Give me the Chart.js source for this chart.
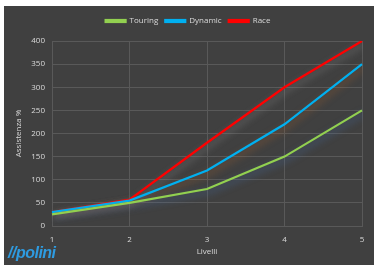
<!DOCTYPE html>
<html><head><meta charset="utf-8">
<script src="https://cdn.jsdelivr.net/npm/chart.js@4"></script>
<style>
html,body{margin:0;padding:0;background:#fff;}
#wrap{position:relative;width:374px;height:265px;}
#logo{position:absolute;left:8px;top:244px;font:italic bold 16px "Liberation Sans",Arial,sans-serif;color:#2e9be0;letter-spacing:-0.5px;line-height:17px;}
</style></head><body>
<div id="wrap"><canvas id="c" width="374" height="265"></canvas><div id="logo">//polini</div></div>
<script>
const categories = ["1","2","3","4","5"];
const touring = [25, 50, 80, 150, 250];
const dynamic = [30, 55, 120, 220, 350];
const race = [30, 57, 180, 300, 400];
const yTicks = [0,50,100,150,200,250,300,350,400];

const bg = {
  id:'bg',
  beforeDraw(chart){
    const ctx = chart.ctx;
    ctx.save();
    ctx.fillStyle = '#404040';
    ctx.fillRect(4,6,370,259);
    ctx.restore();
  }
};
const legendGap = {
  id:'legendGap',
  beforeLayout(chart){
    const lg = chart.legend;
    if (lg && !lg._patched){
      const fit = lg.fit;
      lg.fit = function(){ fit.call(this); this.height += 6; };
      lg._patched = true;
    }
  }
};
const glow = {
  id:'glow',
  beforeDatasetDraw(chart, args){
    const ctx = chart.ctx;
    ctx.save();
    const cols = ['rgba(70,120,190,0.6)','rgba(200,110,40,0.5)','rgba(170,170,170,0.45)'];
    ctx.shadowColor = cols[args.index];
    ctx.shadowBlur = 7;
    ctx.shadowOffsetX = 2;
    ctx.shadowOffsetY = 3;
  },
  afterDatasetDraw(chart){ chart.ctx.restore(); }
};

const font = {family:"'Open Sans','Liberation Sans',sans-serif", size:8};
new Chart(document.getElementById('c'), {
  type:'line',
  data:{
    labels:categories,
    datasets:[
      {label:'Touring', data:touring, borderColor:'#92d050', backgroundColor:'#92d050', borderWidth:2.2, pointRadius:0, tension:0},
      {label:'Dynamic', data:dynamic, borderColor:'#00b0f0', backgroundColor:'#00b0f0', borderWidth:2.2, pointRadius:0, tension:0},
      {label:'Race', data:race, borderColor:'#ff0000', backgroundColor:'#ff0000', borderWidth:2.2, pointRadius:0, tension:0}
    ]
  },
  options:{
    responsive:false, animation:false,
    layout:{padding:{left:14, right:12, top:10, bottom:0}},
    plugins:{
      legend:{position:'top', labels:{color:'#d9d9d9', font:font, boxWidth:20, boxHeight:2, padding:7}},
      tooltip:{enabled:false}
    },
    scales:{
      x:{
        offset:false,
        afterFit(s){ s.height = 39; },
        grid:{color:'#595959', drawTicks:false},
        border:{color:'#595959'},
        ticks:{color:'#d9d9d9', font:font, padding:9},
        title:{display:true, text:'Livelli', color:'#d9d9d9', font:font, padding:{top:2,bottom:8}}
      },
      y:{
        min:0, max:400,
        afterBuildTicks(s){ s.ticks = yTicks.map(v=>({value:v})); },
        afterFit(s){ s.width = 38; },
        grid:{color:'#595959', drawTicks:false},
        border:{color:'#595959'},
        ticks:{color:'#d9d9d9', font:font, padding:7},
        title:{display:true, text:'Assistenza %', color:'#d9d9d9', font:font, padding:{top:0,bottom:2}}
      }
    }
  },
  plugins:[bg, legendGap, glow]
});
</script>
</body></html>
